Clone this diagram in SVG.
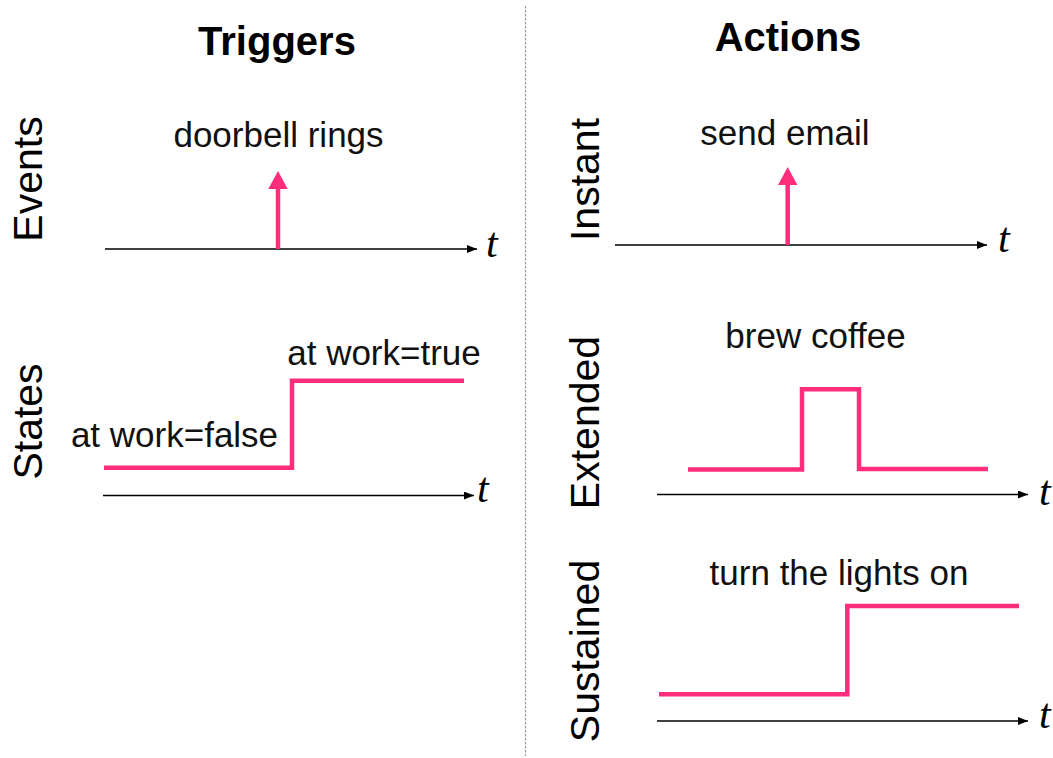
<svg xmlns="http://www.w3.org/2000/svg" width="1053" height="758" viewBox="0 0 1053 758">
  <style>
    .title { font-family: "Liberation Sans", Arial, sans-serif; font-weight: bold; font-size: 40px; fill: #000; text-anchor: middle; }
    .row { font-family: "Liberation Sans", Arial, sans-serif; font-size: 41px; fill: #000; text-anchor: middle; }
    .lbl { font-family: "Liberation Sans", Arial, sans-serif; font-size: 35px; fill: #111; text-anchor: middle; }
    .tvar { font-family: "Liberation Serif", "Times New Roman", serif; font-style: italic; font-size: 42px; fill: #000; }
    .axis { stroke: #000; stroke-width: 1.4; fill: none; marker-end: url(#axisHead); }
    .sig { stroke: #ff2d7b; stroke-width: 4.5; fill: none; stroke-linejoin: miter; stroke-linecap: butt; }
    .spike { stroke: #ff2d7b; stroke-width: 4.5; fill: none; marker-end: url(#spikeHead); }
    .divider { stroke: #9a9a9a; stroke-width: 1.2; stroke-dasharray: 2.5 1.5; }
  </style>
  <defs>
    <marker id="axisHead" markerUnits="userSpaceOnUse" markerWidth="11" markerHeight="9" refX="10" refY="4" orient="auto">
      <path d="M0,0 L10,4 L0,8 z" fill="#000"/>
    </marker>
    <marker id="spikeHead" markerUnits="userSpaceOnUse" markerWidth="19" markerHeight="20" refX="0" refY="9.7" orient="auto">
      <path d="M0,0 L18,9.7 L0,19.4 z" fill="#ff2d7b"/>
    </marker>
  </defs>
  <rect width="1053" height="758" fill="#fff"/>

  <line class="divider" x1="525.5" y1="6" x2="525.5" y2="756"/>

  <g id="headings">
    <text class="title" x="277" y="55">Triggers</text>
    <text class="title" x="788" y="51">Actions</text>
  </g>

  <g id="row-labels">
    <text class="row" transform="translate(42,179) rotate(-90)">Events</text>
    <text class="row" transform="translate(42,421.5) rotate(-90)">States</text>
    <text class="row" transform="translate(599,179.5) rotate(-90)">Instant</text>
    <text class="row" transform="translate(599,422.5) rotate(-90)">Extended</text>
    <text class="row" transform="translate(599,651) rotate(-90)">Sustained</text>
  </g>

  <g id="connectors">
    <line class="axis" x1="105" y1="249" x2="477" y2="249"/>
    <line class="axis" x1="103" y1="495.5" x2="474" y2="495.5"/>
    <line class="axis" x1="615" y1="245" x2="987" y2="245"/>
    <line class="axis" x1="657" y1="494.5" x2="1028" y2="494.5"/>
    <line class="axis" x1="657" y1="721" x2="1028" y2="721"/>
  </g>

  <g id="events">
    <line class="spike" x1="278" y1="249" x2="278" y2="189"/>
    <text class="lbl" x="278.5" y="147">doorbell rings</text>
    <text class="tvar" x="486" y="257">t</text>
  </g>

  <g id="states">
    <path class="sig" d="M104,467.7 H292 V380.7 H464"/>
    <text class="lbl" x="384" y="365">at work=true</text>
    <text class="lbl" x="174.5" y="447">at work=false</text>
    <text class="tvar" x="477" y="502">t</text>
  </g>

  <g id="instant">
    <line class="spike" x1="787.7" y1="245" x2="787.7" y2="185"/>
    <text class="lbl" x="785" y="145">send email</text>
    <text class="tvar" x="998" y="252">t</text>
  </g>

  <g id="extended">
    <path class="sig" d="M688,469.5 H802 V389.3 H859 V469 H988"/>
    <text class="lbl" x="815.5" y="348">brew coffee</text>
    <text class="tvar" x="1039" y="505">t</text>
  </g>

  <g id="sustained">
    <path class="sig" d="M659,694.3 H847.3 V606 H1019"/>
    <text class="lbl" x="839" y="585">turn the lights on</text>
    <text class="tvar" x="1039" y="728">t</text>
  </g>
</svg>
